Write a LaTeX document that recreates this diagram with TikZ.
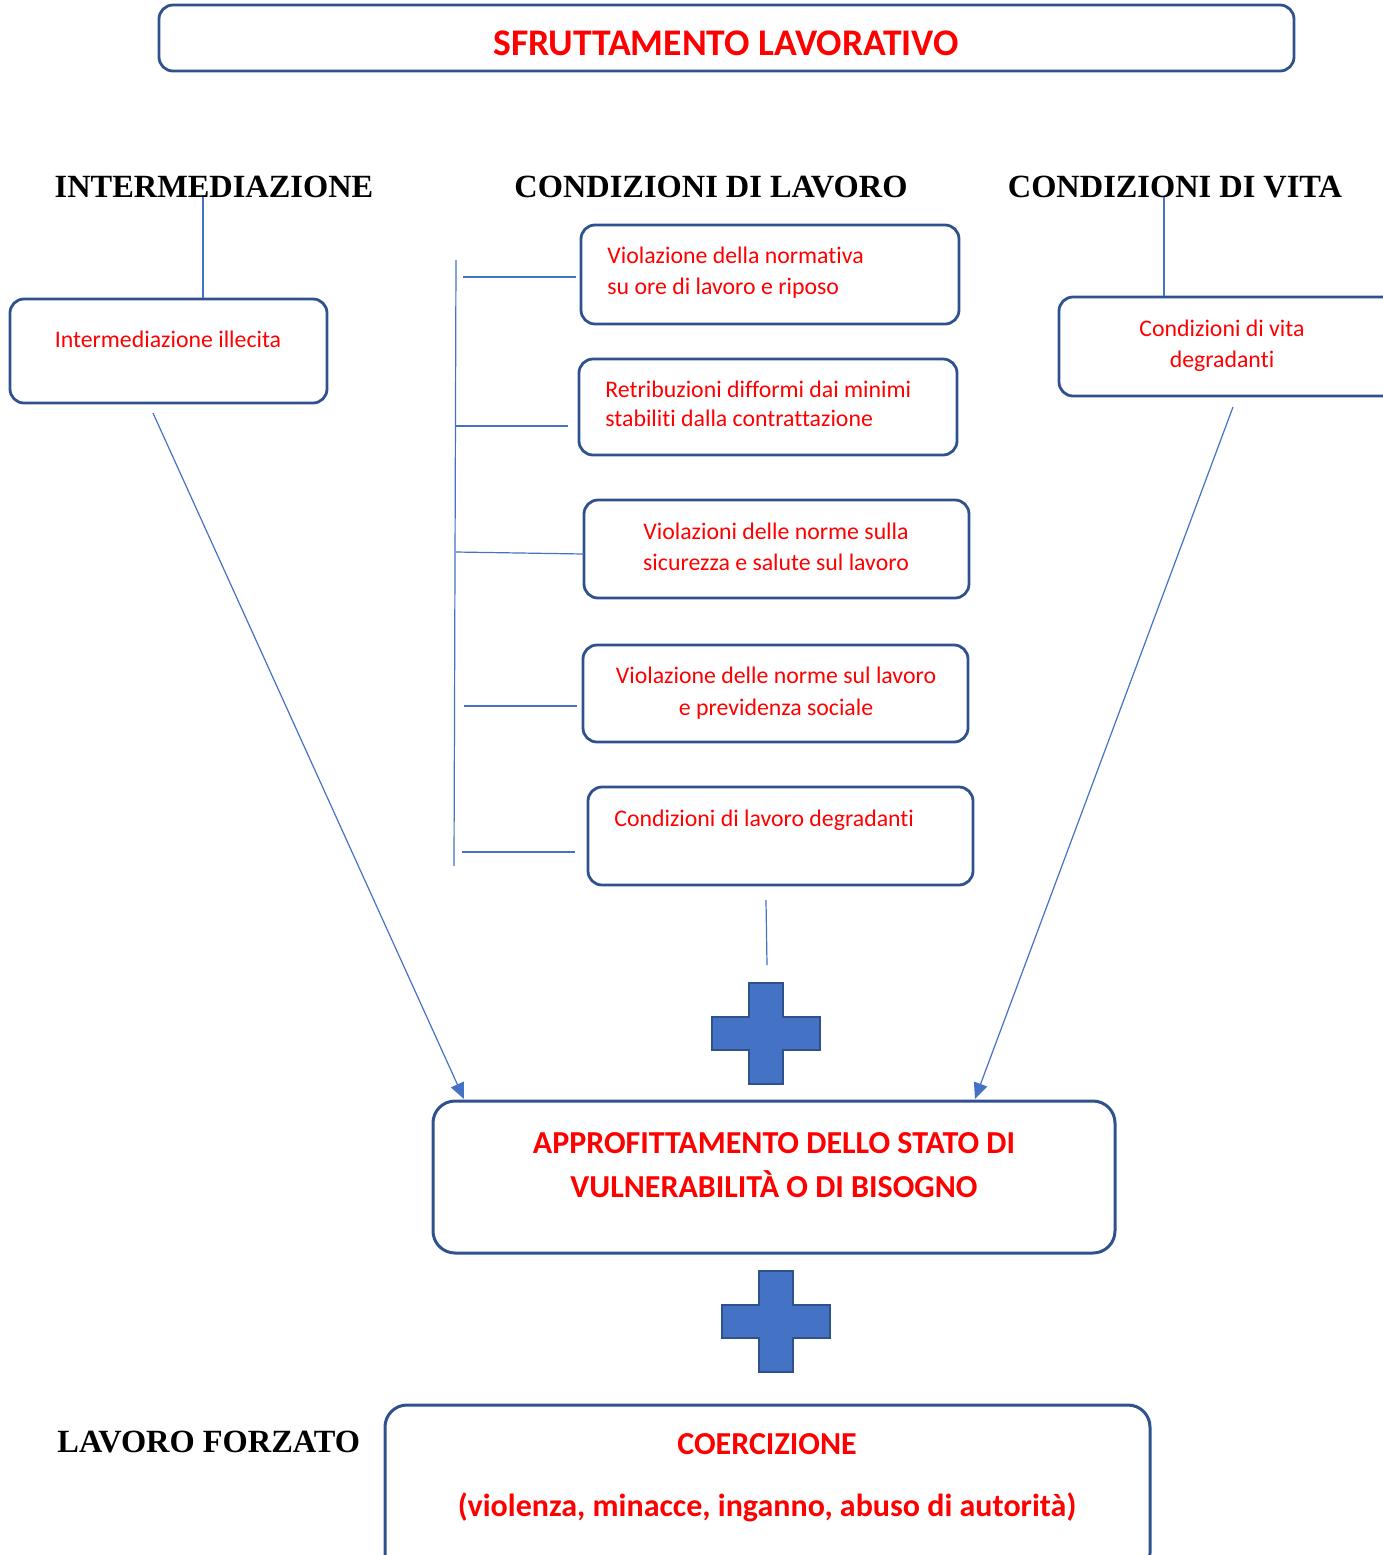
\documentclass[tikz,border=0pt]{standalone}
\usepackage{fontspec}
\setmainfont{Carlito}[Ligatures=NoCommon]
\newfontfamily\headfont{Liberation Serif}
\usetikzlibrary{arrows.meta,fit}
\definecolor{boxblue}{RGB}{47,82,143}
\definecolor{lineblue}{RGB}{68,114,196}
\definecolor{txtred}{RGB}{255,0,0}
\tikzset{
  box/.style={draw=boxblue, line width=1.4pt, rounded corners=7pt, inner sep=0pt},
  bigbox/.style={draw=boxblue, line width=1.5pt, rounded corners=11pt, inner sep=0pt},
  conn/.style={draw=lineblue, line width=0.6pt},
  arr/.style={conn, -{Triangle[length=8pt,width=7pt]}},
  small/.style={text=txtred, inner sep=0pt, font=\fontsize{11.9}{14}\selectfont},
  big/.style={text=txtred, inner sep=0pt, font=\fontsize{16}{19}\selectfont\bfseries},
  head/.style={inner sep=0pt, font=\fontsize{16.2}{19}\selectfont\headfont\bfseries},
  plus/.style={fill=lineblue, draw=boxblue, line width=1.3pt},
}
\begin{document}
\begin{tikzpicture}[x=0.5pt,y=-0.5pt]
\useasboundingbox (0,0) rectangle (1383,1555);
% title
\node[box, fit={(159,5) (1294,71)}] (title) {};
\node[text=txtred, inner sep=0pt, font=\fontsize{18.8}{22}\selectfont\bfseries, anchor=base] (titletxt) at (726,55) {SFRUTTAMENTO LAVORATIVO};
% headings
\node[head, anchor=base] (h1) at (214,197) {INTERMEDIAZIONE};
\node[head, anchor=base] (h2) at (711,197) {CONDIZIONI DI LAVORO};
\node[head, anchor=base] (h3) at (1175,197) {CONDIZIONI DI VITA};
\node[head, anchor=base west] (h4) at (57,1452) {LAVORO FORZATO};
% left box
\node[box, fit={(10,299) (327,403)}] (inter) {};
\node[small, anchor=base] (intertxt) at (168,347) {Intermediazione illecita};
% right box
\node[box, fit={(1059,297) (1400,396)}] (vita) {};
\node[small, anchor=base] (vita1) at (1222,336) {Condizioni di vita};
\node[small, anchor=base] (vita2) at (1222,367) {degradanti};
% middle boxes
\node[box, fit={(581,225) (959,324)}] (c1) {};
\node[small, anchor=base west] (c1a) at (607,263) {Violazione della normativa};
\node[small, anchor=base west] (c1b) at (607,294) {su ore di lavoro e riposo};
\node[box, fit={(579,359) (957,455)}] (c2) {};
\node[small, anchor=base west] (c2a) at (605,397) {Retribuzioni difformi dai minimi};
\node[small, anchor=base west] (c2b) at (605,426) {stabiliti dalla contrattazione};
\node[box, fit={(584,500) (969,598)}] (c3) {};
\node[small, anchor=base] (c3a) at (776,539) {Violazioni delle norme sulla};
\node[small, anchor=base] (c3b) at (776,570) {sicurezza e salute sul lavoro};
\node[box, fit={(583,645) (968,742)}] (c4) {};
\node[small, anchor=base] (c4a) at (776,683) {Violazione delle norme sul lavoro};
\node[small, anchor=base] (c4b) at (776,715) {e previdenza sociale};
\node[box, fit={(588,787) (973,885)}] (c5) {};
\node[small, anchor=base west] (c5a) at (614,826) {Condizioni di lavoro degradanti};
% approfittamento
\node[bigbox, fit={(433,1101) (1115,1253)}] (appr) {};
\node[big, anchor=base] (appr1) at (774,1153) {APPROFITTAMENTO DELLO STATO DI};
\node[big, anchor=base] (appr2) at (774,1197) {VULNERABILITÀ O DI BISOGNO};
% coercizione
\node[bigbox, fit={(385,1405) (1150,1575)}] (coer) {};
\node[big, anchor=base] (coer1) at (767,1454) {COERCIZIONE};
\node[big, anchor=base] (coer2) at (767,1516) {(violenza, minacce, inganno, abuso di autorità)};
% connectors from headings
\coordinate (h1b) at (203,197);
\coordinate (h3b) at (1164,197);
\draw[conn] (h1b) -- (inter.north -| h1b);
\draw[conn] (h3b) -- (vita.north -| h3b);
% bracket
\coordinate (brtop) at (456,260);
\coordinate (brbot) at (454,866);
\draw[conn] (brtop) -- (brbot);
\coordinate (b1s) at (463,277); \coordinate (b1e) at (576,277);
\coordinate (b2s) at (455,426); \coordinate (b2e) at (568,426);
\coordinate (b3s) at (456,552); \coordinate (b3e) at (584,554);
\coordinate (b4s) at (464,706); \coordinate (b4e) at (577,706);
\coordinate (b5s) at (462,852); \coordinate (b5e) at (575,852);
\draw[conn] (b1s) -- (b1e);
\draw[conn] (b2s) -- (b2e);
\draw[conn] (b3s) -- (b3e);
\draw[conn] (b4s) -- (b4e);
\draw[conn] (b5s) -- (b5e);
% line below c5
\coordinate (c5l) at (766,900);
\coordinate (c5m) at (767,965);
\draw[conn] (c5l) -- (c5m);
% arrows
\coordinate (a1s) at (153,413);
\coordinate (a1e) at (464,1099);
\coordinate (a2s) at (1233,407);
\coordinate (a2e) at (975,1099);
\draw[arr] (a1s) -- (a1e);
\draw[arr] (a2s) -- (a2e);
% plus signs
\draw[plus] (749,983) -- (783,983) -- (783,1017) -- (820,1017) -- (820,1050) -- (783,1050) -- (783,1084) -- (749,1084) -- (749,1050) -- (712,1050) -- (712,1017) -- (749,1017) -- cycle;
\begin{scope}[shift={(10,288)}]
\draw[plus] (749,983) -- (783,983) -- (783,1017) -- (820,1017) -- (820,1050) -- (783,1050) -- (783,1084) -- (749,1084) -- (749,1050) -- (712,1050) -- (712,1017) -- (749,1017) -- cycle;
\end{scope}
\end{tikzpicture}
\end{document}
